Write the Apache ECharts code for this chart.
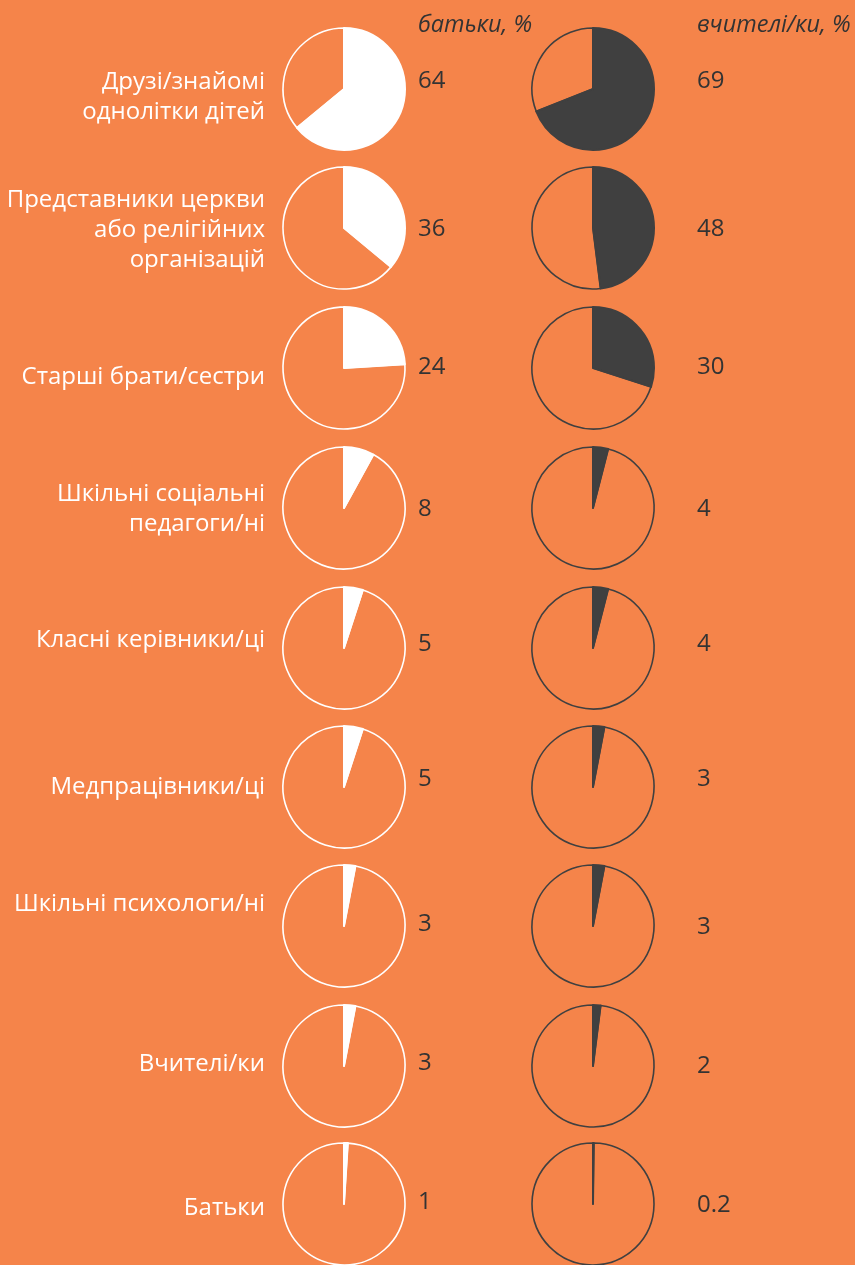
<!DOCTYPE html>
<html>
<head>
<meta charset="utf-8">
<script src="https://cdn.jsdelivr.net/npm/echarts@6/dist/echarts.min.js"></script>
<style>
  html, body { margin: 0; padding: 0; background: #F5844A; }
  #chart { width: 855px; height: 1265px; }
</style>
</head>
<body>
<div id="chart"></div>
<script>
// дані
var categories = [
    'Друзі/знайомі\nоднолітки дітей',
    'Представники церкви\nабо релігійних\nорганізацій',
    'Старші брати/сестри',
    'Шкільні соціальні\nпедагоги/ні',
    'Класні керівники/ці',
    'Медпрацівники/ці',
    'Шкільні психологи/ні',
    'Вчителі/ки',
    'Батьки'
];
var parents = [64, 36, 24, 8, 5, 5, 3, 3, 1];
var teachers = [69, 48, 30, 4, 4, 3, 3, 2, 0.2];
var headers = ['батьки, %', 'вчителі/ки, %'];

// розмітка
var pieY = [89, 228, 368, 508, 648, 787, 926, 1066, 1204];
var labelY = [97, 230, 377, 509, 640, 787, 904, 1064, 1208];
var leftValY = [81, 229, 367, 509, 644, 779, 924, 1063, 1202];
var rightValY = [81, 229, 367, 509, 644, 779, 927, 1066, 1205];

var myChart = echarts.init(document.getElementById('chart'));

function pie(val, x, y, fill, line) {
    return {
        type: 'pie',
        silent: true,
        animation: false,
        center: [x, y],
        radius: 61,
        startAngle: 90,
        clockwise: true,
        label: { show: false },
        labelLine: { show: false },
        itemStyle: { borderColor: line, borderWidth: 1.6 },
        data: [
            { value: val, itemStyle: { color: fill, borderWidth: 2 } },
            { value: 100 - val, itemStyle: { color: 'transparent' } }
        ]
    };
}

var series = [];
var graphic = [];
for (var i = 0; i < categories.length; i++) {
    series.push(pie(parents[i], 344, pieY[i], '#ffffff', '#ffffff'));
    series.push(pie(teachers[i], 593, pieY[i], '#404040', '#404040'));
    graphic.push({
        type: 'text', x: 265, y: labelY[i],
        style: {
            text: categories[i], fill: '#ffffff', align: 'right', verticalAlign: 'middle',
            font: '24px "Open Sans"', lineHeight: 30
        }
    });
    graphic.push({
        type: 'text', x: 418, y: leftValY[i],
        style: { text: String(parents[i]), fill: '#333333', verticalAlign: 'middle', font: '24px "Open Sans"' }
    });
    graphic.push({
        type: 'text', x: 697, y: rightValY[i],
        style: { text: String(teachers[i]), fill: '#333333', verticalAlign: 'middle', font: '24px "Open Sans"' }
    });
}
graphic.push({
    type: 'text', x: 418, y: 25,
    style: { text: headers[0], fill: '#333333', verticalAlign: 'middle', font: 'italic 23.5px "Open Sans"' }
});
graphic.push({
    type: 'text', x: 697, y: 25,
    style: { text: headers[1], fill: '#333333', verticalAlign: 'middle', font: 'italic 23.5px "Open Sans"' }
});

var option = {
    backgroundColor: '#F5844A',
    animation: false,
    series: series,
    graphic: graphic
};
myChart.setOption(option);
</script>
</body>
</html>
